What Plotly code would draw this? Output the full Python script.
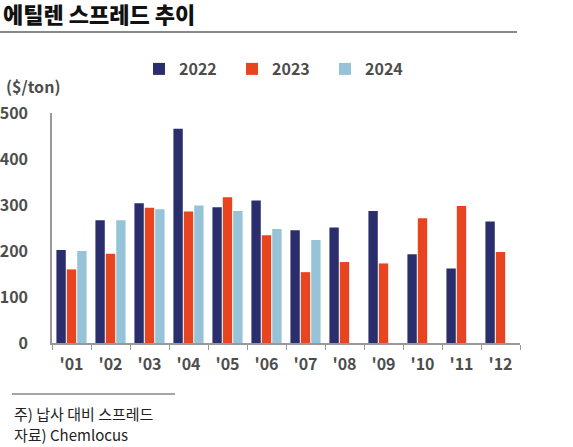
import plotly.graph_objects as go

FONT = "Noto Sans CJK KR"

months = ["'01", "'02", "'03", "'04", "'05", "'06", "'07", "'08", "'09", "'10", "'11", "'12"]
spread_2022 = [202, 267, 304, 466, 295, 310, 245, 251, 287, 193, 162, 264]
spread_2023 = [160, 194, 294, 286, 317, 234, 154, 176, 173, 271, 298, 198]
spread_2024 = [200, 267, 291, 299, 287, 248, 224, None, None, None, None, None]

series = [
    ("2022", spread_2022, "#2b2e6c"),
    ("2023", spread_2023, "#e8441f"),
    ("2024", spread_2024, "#96c3d7"),
]

fig = go.Figure()
for name, vals, color in series:
    fig.add_trace(go.Bar(x=months, y=vals, name=name, marker_color=color,
                         marker_line_width=0))

W, H = 573, 447
L, R, T, B = 52, 53, 113, 104
pw, ph = W - L - R, H - T - B


def px(x):
    return (x - L) / pw


def py(y):
    return (H - B - y) / ph


fig.update_layout(
    width=W, height=H,
    margin=dict(l=L, r=R, t=T, b=B, autoexpand=False),
    paper_bgcolor="white", plot_bgcolor="white",
    font=dict(family=FONT, color="#4d4d4d"),
    barmode="group", bargap=0.2, bargroupgap=0.1,
    title=dict(text="에틸렌 스프레드 추이", x=3 / W, xanchor="left",
               xref="container", y=1 - 15 / H, yanchor="middle",
               font=dict(size=22, color="#111111", family=FONT, weight=900)),
    legend=dict(orientation="h", x=px(139), xanchor="left", y=py(69),
                yanchor="middle", entrywidth=48,
                font=dict(size=16, color="#4d4d4d", family=FONT, weight=700),
                bgcolor="rgba(0,0,0,0)"),
    showlegend=True,
)

fig.update_xaxes(
    automargin=False,
    showline=True, linecolor="#999999", linewidth=1.5,
    ticks="outside", tickson="boundaries", ticklen=5, tickcolor="#999999",
    tickwidth=1.2, ticklabelstandoff=6,
    tickfont=dict(size=16, color="#4d4d4d", family=FONT, weight=600),
    showgrid=False, zeroline=False,
)
fig.update_yaxes(
    automargin=False,
    range=[0, 500], tickvals=[0, 100, 200, 300, 400, 500],
    showline=True, linecolor="#999999", linewidth=1.5,
    ticks="", ticklabelstandoff=19,
    tickfont=dict(size=16, color="#4d4d4d", family=FONT, weight=700),
    showgrid=False, zeroline=False,
)

fig.add_annotation(text="<b>($/ton)</b>", xref="paper", yref="paper",
                   x=px(4), y=py(86), xanchor="left", yanchor="middle",
                   showarrow=False, font=dict(size=16, color="#4d4d4d"))
fig.add_annotation(text="주) 납사 대비 스프레드", xref="paper", yref="paper",
                   x=px(12), y=py(413), xanchor="left", yanchor="middle",
                   showarrow=False, font=dict(size=15, color="#222222"))
fig.add_annotation(text="자료) Chemlocus", xref="paper", yref="paper",
                   x=px(12), y=py(434), xanchor="left", yanchor="middle",
                   showarrow=False, font=dict(size=15, color="#222222"))

# title underline and footnote rule
fig.add_shape(type="line", xref="paper", yref="paper",
              x0=px(0), x1=px(517), y0=py(32), y1=py(32),
              line=dict(color="#888888", width=2))
fig.add_shape(type="line", xref="paper", yref="paper",
              x0=px(12), x1=px(175), y0=py(394), y1=py(394),
              line=dict(color="#888888", width=1.5))

# page body has a default 8px margin; drop it so the figure sits at 0,0
fig.write_html("out.html", config={"displayModeBar": False},
               post_script="document.body.style.margin='0px';")
